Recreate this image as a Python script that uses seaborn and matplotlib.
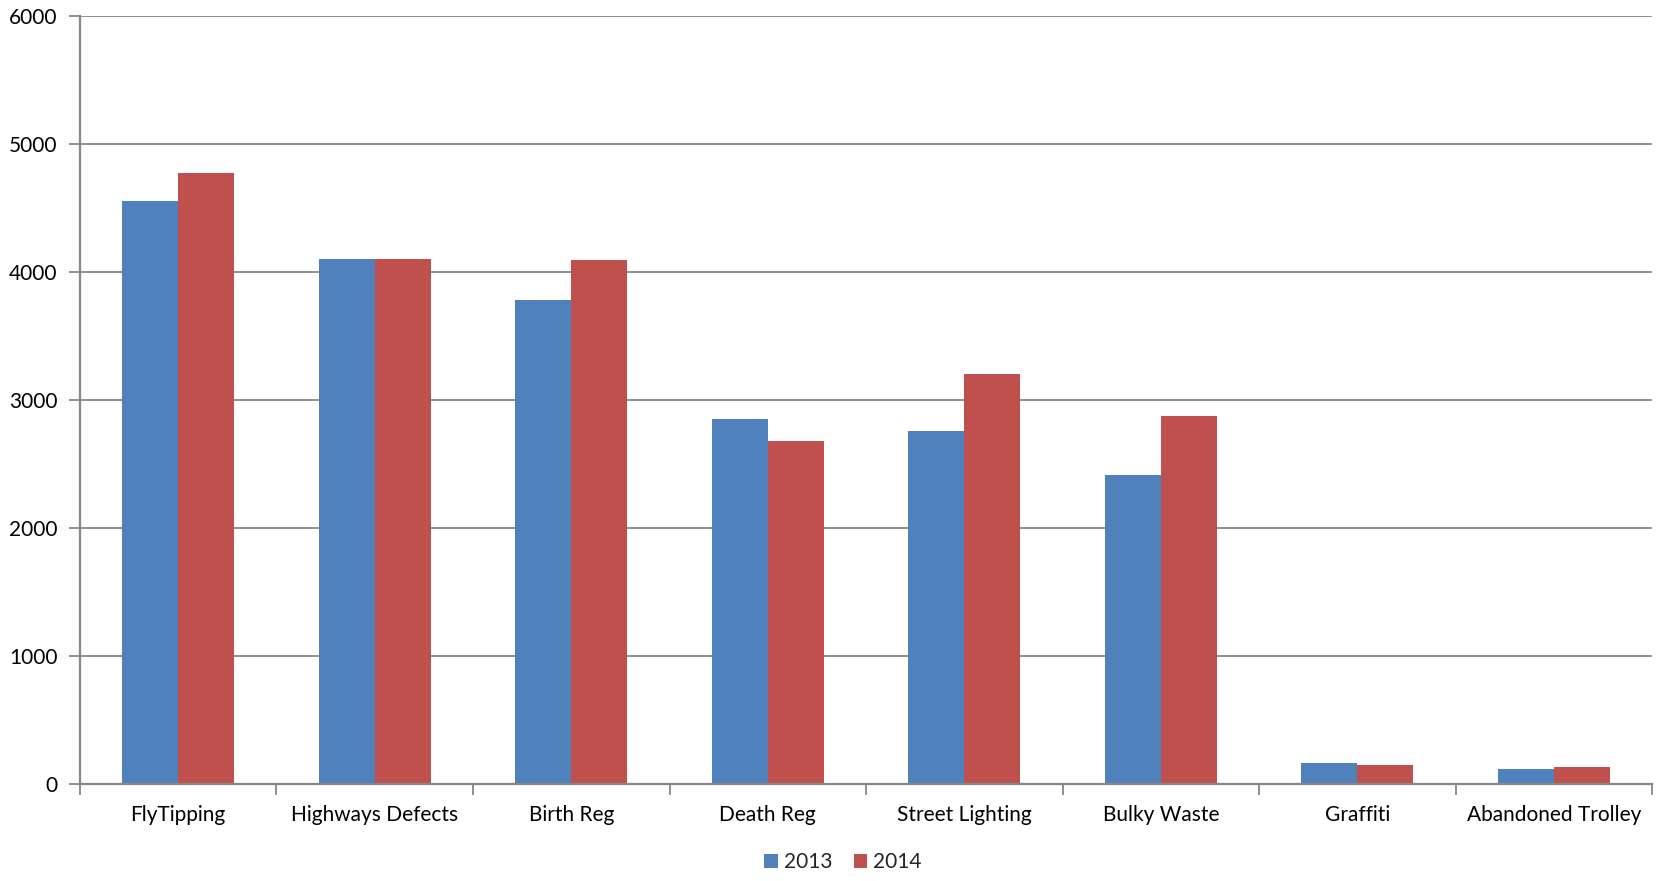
import matplotlib
matplotlib.use("Agg")
import matplotlib.pyplot as plt
import seaborn as sns
import pandas as pd
from matplotlib.ticker import FixedLocator

categories = ["FlyTipping", "Highways Defects", "Birth Reg", "Death Reg",
              "Street Lighting", "Bulky Waste", "Graffiti", "Abandoned Trolley"]
values_2013 = [4555, 4100, 3780, 2850, 2755, 2415, 165, 118]
values_2014 = [4777, 4103, 4092, 2682, 3200, 2878, 150, 133]
series_names = ["2013", "2014"]
y_ticks = [0, 1000, 2000, 3000, 4000, 5000, 6000]

df = pd.DataFrame({
    "Category": categories * 2,
    "Year": [series_names[0]] * len(categories) + [series_names[1]] * len(categories),
    "Value": values_2013 + values_2014,
})

sns.set_theme(style="white")
plt.rcParams['font.family'] = ['Lato', 'DejaVu Sans']

fig = plt.figure(figsize=(16.63, 8.81), dpi=100)
ax = fig.add_axes([0.0481, 0.1101, 0.9453, 0.8717])

palette = {"2013": "#4F81BD", "2014": "#C0504D"}
sns.barplot(data=df, x="Category", y="Value", hue="Year", order=categories,
            hue_order=series_names, palette=palette, width=0.57, gap=0,
            linewidth=0, saturation=1, ax=ax, legend=True)

grid_c = "#878787"
ax.set_ylim(0, 6000)
ax.set_xlim(-0.5, len(categories) - 0.5)
ax.set_yticks(y_ticks)
ax.set_yticklabels([str(v) for v in y_ticks])
ax.yaxis.grid(True, color=grid_c, linewidth=1.3)
ax.set_axisbelow(True)
ax.set_xlabel("")
ax.set_ylabel("")

for s in ["top", "right"]:
    ax.spines[s].set_visible(False)
for s in ["left", "bottom"]:
    ax.spines[s].set_color(grid_c)
    ax.spines[s].set_linewidth(1.6)
    ax.spines[s].set_zorder(5)

ax.tick_params(axis="y", which="major", length=8, width=1.3, color=grid_c,
               labelsize=15, pad=8, left=True, labelcolor="black")
ax.tick_params(axis="x", which="major", length=0, labelsize=15, pad=15,
               labelcolor="black")
ax.xaxis.set_minor_locator(FixedLocator([i - 0.5 for i in range(len(categories) + 1)]))
ax.tick_params(axis="x", which="minor", length=8, width=1.3, color=grid_c, bottom=True)

handles, labels = ax.get_legend_handles_labels()
ax.get_legend().remove()
fig.legend(handles, labels, loc="center", bbox_to_anchor=(0.507, 0.021),
           ncol=2, frameon=False, fontsize=15, handlelength=0.65,
           handleheight=0.65, handletextpad=0.3, columnspacing=1.0)

fig.savefig("out.png", dpi=100)
